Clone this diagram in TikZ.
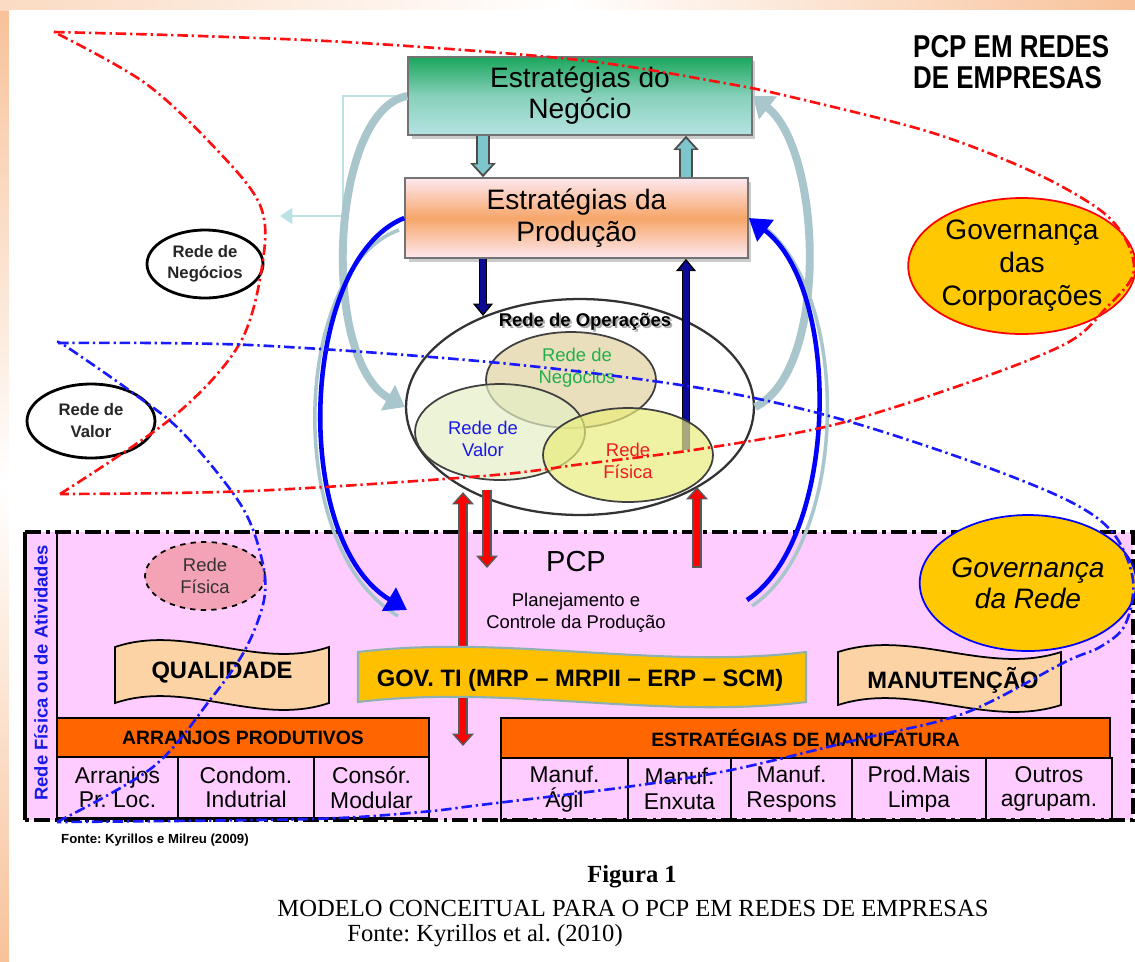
\documentclass[tikz,border=0pt]{standalone}
\usepackage{fontspec}
\setmainfont{Liberation Serif}
\setsansfont{Liberation Sans}
\newfontfamily\condfont[FakeStretch=0.82]{Liberation Sans}
\usetikzlibrary{arrows.meta,shapes.geometric,shadows}
\frenchspacing

\definecolor{peach}{HTML}{F8C29A}
\definecolor{bgreen}{HTML}{1AA65C}
\definecolor{bcyan}{HTML}{B6E3E3}
\definecolor{bpink}{HTML}{FDE8F0}
\definecolor{borange}{HTML}{F7A66A}
\definecolor{arrteal}{HTML}{7DC6CB}
\definecolor{arrgrey}{HTML}{A9C6CD}
\definecolor{elbowcyan}{HTML}{BCE2E6}
\definecolor{navy}{HTML}{0A0A96}
\definecolor{pcppink}{HTML}{FFCCFF}
\definecolor{barorange}{HTML}{FF6600}
\definecolor{banpeach}{HTML}{FCD3A4}
\definecolor{gold}{HTML}{FFC800}
\definecolor{govti}{HTML}{FFC000}
\definecolor{govtiedge}{HTML}{8FB0B0}
\definecolor{rfpink}{HTML}{F4A2B6}
\definecolor{negfill}{HTML}{E3D5A6}
\definecolor{valfill}{HTML}{E5EFC6}
\definecolor{fisfill}{HTML}{E9ED7C}
\definecolor{txtgreen}{HTML}{22B04A}
\definecolor{txtblue}{HTML}{1A1AE6}
\definecolor{txtred}{HTML}{EE1C24}
\definecolor{dashred}{HTML}{FF1010}
\definecolor{dashblue}{HTML}{1A1AFF}

\newcommand{\setsz}[2]{\fontsize{#1}{#2}\selectfont}

\begin{document}
\begin{tikzpicture}[x=0.02cm,y=-0.02cm,
  stratbox/.style={draw=black!55,line width=0.9pt,align=center,
    drop shadow={shadow xshift=2pt,shadow yshift=-2pt,fill=black!40}},
  oval/.style={ellipse,draw,inner sep=0pt,align=center},
  tealout/.style={line width=8pt,draw=black!70,-{Triangle[length=8pt,width=14pt]}},
  tealin/.style={line width=5.2pt,draw=arrteal,shorten >=1.7pt,-{Triangle[length=5.6pt,width=10pt]}},
  navyout/.style={line width=5pt,draw=black,-{Triangle[length=7pt,width=11pt]}},
  navyin/.style={line width=3pt,draw=navy,shorten >=1.3pt,-{Triangle[length=5pt,width=7.6pt]}},
  redout/.style={line width=5.5pt,draw=black!65,-{Triangle[length=7pt,width=12pt]}},
  redin/.style={line width=3.2pt,draw=red,shorten >=1.4pt,-{Triangle[length=5pt,width=8.4pt]}},
  bigcurve/.style={line width=4.5pt,draw=arrgrey,-{Triangle[length=11pt,width=16pt]}},
  bluecurve/.style={line width=2.6pt,draw=blue,-{Triangle[length=12pt,width=15pt]}},
  shadowcurve/.style={line width=2pt,draw=arrgrey},
  dashdotline/.style={line width=1.5pt,dash pattern=on 6pt off 2.2pt on 1.3pt off 2.2pt},
  banner/.style={draw=black,line width=1pt},
  cell/.style={draw=black,line width=0.6pt,align=center,inner sep=0pt,
    font=\sffamily\setsz{13}{14}}]
\useasboundingbox (0,0) rectangle (1135,961);

\fill[peach] (0,0) rectangle (1135,961);
\shade[top color=peach,bottom color=peach,middle color=white] (0,10) rectangle (9,961);
\shade[left color=peach!60,right color=peach,middle color=white] (0,0) rectangle (1135,10);
\fill[white] (9,10) rectangle (1135,961);

\fill[pcppink] (25,532) rectangle (1133,820);
\draw[line width=1.8pt,dash pattern=on 9pt off 3pt on 2pt off 3pt] (25,532) -- (1133,532) -- (1133,820) -- (25,820);
\draw[line width=2.2pt] (25,532) -- (25,820);
\draw[line width=1.5pt] (57,532) -- (57,818);
\node[rotate=90,text=txtblue,font=\sffamily\bfseries\setsz{10.5}{12}] (faixa) at (41,673) {Rede Física ou de Atividades};

\node[anchor=west,align=left,font=\condfont\bfseries\setsz{18}{17.6}] (titulo) at (907,62) {PCP EM REDES\\DE EMPRESAS};

\node[stratbox,top color=bgreen,bottom color=bcyan,middle color=bgreen!30!bcyan,
  minimum width=6.88cm,minimum height=1.56cm,font=\sffamily\setsz{16}{17.6}] (negocio) at (580,96) {Estratégias do\\Negócio};
\node[stratbox,top color=bpink,bottom color=bpink,middle color=borange,
  minimum width=6.86cm,minimum height=1.6cm,font=\sffamily\setsz{16}{18}] (producao) at (576.5,218) {Estratégias da\\Produção};

\coordinate (laneL) at (483,0);
\coordinate (laneR) at (686,0);
\draw[tealout] (laneL |- negocio.south) -- (laneL |- producao.north);
\draw[tealin] (laneL |- negocio.south) -- (laneL |- producao.north);
\draw[tealout] (laneR |- producao.north) -- (laneR |- negocio.south);
\draw[tealin] (laneR |- producao.north) -- (laneR |- negocio.south);

\node[oval,line width=1.6pt,fill=white,text=black!85,minimum width=2.32cm,minimum height=1.36cm,
  font=\sffamily\bfseries\setsz{9.5}{12}] (negesq) at (205,264) {Rede de\\Negócios};
\node[oval,line width=1.6pt,fill=white,text=black!85,minimum width=2.56cm,minimum height=1.48cm,
  font=\sffamily\bfseries\setsz{9.5}{12.5}] (valesq) at (91,421) {Rede de\\Valor};
\node[oval,draw=red,line width=1pt,fill=gold,minimum width=4.48cm,minimum height=2.72cm,
  font=\sffamily\setsz{16}{18.7}] (govcorp) at (1022,266) {Governança\\das\\Corporações};

\node[oval,line width=1.3pt,draw=black!80,minimum width=6.96cm,minimum height=4.32cm] (operacoes) at (580,407) {};
\node[font=\sffamily\bfseries\setsz{10.5}{12},text=black!35] (opersombra) at (587,324) {Rede de Operações};
\node[font=\sffamily\bfseries\setsz{10.5}{12}] (opertxt) at (585,322) {Rede de Operações};

\coordinate (navytip) at (483,316);
\coordinate (navybase) at (686,450);
\draw[navyout] (laneL |- producao.south) -- (navytip);
\draw[navyin] (laneL |- producao.south) -- (navytip);
\draw[navyout] (navybase) -- (laneR |- producao.south);
\draw[navyin] (navybase) -- (laneR |- producao.south);

\node[oval,line width=1pt,draw=black!75,fill=negfill,fill opacity=0.75,minimum width=3.4cm,minimum height=1.92cm] (negint) at (571,380) {};
\node[oval,line width=1pt,draw=black!75,fill=valfill,fill opacity=0.7,minimum width=3.4cm,minimum height=1.92cm] (valint) at (500,432) {};
\node[oval,line width=1pt,draw=black!75,fill=fisfill,fill opacity=0.7,minimum width=3.4cm,minimum height=1.88cm] (fisint) at (628,455) {};
\node[align=center,text=txtgreen,font=\sffamily\setsz{10.5}{12.5}] (negtxt) at (577,368) {Rede de\\Negócios};
\node[align=center,text=txtblue,font=\sffamily\setsz{10.5}{12.5}] (valtxt) at (483,439) {Rede de\\Valor};
\node[align=center,text=txtred,font=\sffamily\setsz{10.5}{12.5}] (fistxt) at (628,461) {Rede\\Física};

\coordinate (r1top) at (463,492);
\coordinate (r1bot) at (463,746);
\coordinate (r2top) at (487,490);
\coordinate (r2bot) at (487,568);
\coordinate (r3bot) at (697,568);
\coordinate (r3top) at (697,487);
\draw[redout,{Triangle[length=7pt,width=12pt]}-{Triangle[length=7pt,width=12pt]}] (r1bot) -- (r1top);
\draw[redin,shorten <=1.4pt,{Triangle[length=5pt,width=8.4pt]}-{Triangle[length=5pt,width=8.4pt]}] (r1bot) -- (r1top);
\draw[redout] (r2top) -- (r2bot);
\draw[redin] (r2top) -- (r2bot);
\draw[redout] (r3bot) -- (r3top);
\draw[redin,shorten <=1pt] (r3bot) -- (r3top);

\coordinate (elbow) at (343,216);
\coordinate (elbowend) at (280,216);
\draw[line width=1.2pt,draw=elbowcyan,-{Triangle[length=7pt,width=9pt]}] (negocio.west) -| (elbow) -- (elbowend);
\draw[bigcurve] (negocio.west) .. controls (330,110) and (320,360) .. (operacoes.west);
\draw[bigcurve] (operacoes.east) .. controls (830,370) and (822,150) .. (negocio.east);

\coordinate (blueLtip) at (407,610);
\coordinate (blueRstart) at (747,600);
\draw[shadowcurve] (399,230) .. controls (292,268) and (282,548) .. (398,616);
\draw[bluecurve] (producao.west) .. controls (300,260) and (290,540) .. (blueLtip);
\draw[shadowcurve] (752,606) .. controls (850,540) and (853,288) .. (758,222);
\draw[bluecurve] (blueRstart) .. controls (838,540) and (843,290) .. (producao.east);

\node[oval,dashed,line width=1pt,fill=rfpink,text=black!80,minimum width=2.4cm,minimum height=1.36cm,
  font=\sffamily\setsz{10.5}{12.5}] (fisesq) at (205,576) {Rede\\Física};
\node[font=\sffamily\setsz{16.5}{18}] (pcp) at (576,562) {PCP};
\node[align=center,font=\sffamily\setsz{10.5}{12.5}] (pcpsub) at (576,613) {Planejamento e\\Controle da Produção};
\node[oval,draw=blue,line width=1pt,fill=gold,minimum width=4.24cm,minimum height=2.72cm,
  font=\sffamily\itshape\setsz{16}{17.6}] (govrede) at (1028,583) {Governança\\da Rede};

\draw[banner,fill=banpeach] (115,647) .. controls (186,623) and (258,671) .. (329,647) -- (329,703)
  .. controls (258,727) and (186,679) .. (115,703) -- cycle;
\node[font=\sffamily\bfseries\setsz{13.5}{15}] (qualidade) at (222,673) {QUALIDADE};
\draw[line width=1.2pt,draw=govtiedge,fill=govti] (358,652) .. controls (507,634) and (657,670) .. (806,652) -- (806,702)
  .. controls (657,720) and (507,684) .. (358,702) -- cycle;
\node[font=\sffamily\bfseries\setsz{13.5}{15}] (govtitxt) at (580,680) {GOV. TI (MRP – MRPII – ERP – SCM)};
\draw[banner,fill=banpeach] (838,652) .. controls (912,628) and (987,676) .. (1061,652) -- (1061,705)
  .. controls (987,729) and (912,681) .. (838,705) -- cycle;
\node[font=\sffamily\bfseries\setsz{13.5}{15}] (manutencao) at (953,680) {MANUTENÇÃO};

\node[draw=black,line width=1pt,fill=barorange,minimum width=7.44cm,minimum height=0.78cm,
  font=\sffamily\bfseries\setsz{11}{13}] (arranjos) at (243,737.5) {ARRANJOS PRODUTIVOS};
\node[draw=black,line width=1pt,fill=barorange,minimum width=12.18cm,minimum height=0.8cm,
  font=\sffamily\bfseries\setsz{11}{13}] (estrmanuf) at (805.5,738) {ESTRATÉGIAS DE MANUFATURA};

\node[cell,minimum width=2.42cm,minimum height=1.22cm] (arr1) at (117.5,787.5) {Arranjos\\Pr. Loc.};
\node[cell,minimum width=2.72cm,minimum height=1.22cm] (arr2) at (246,787.5) {Condom.\\Indutrial};
\node[cell,minimum width=2.3cm,minimum height=1.22cm] (arr3) at (371.5,787.5) {Consór.\\Modular};
\node[cell,minimum width=2.54cm,minimum height=1.24cm] (man1) at (564.5,789) {Manuf.\\Ágil};
\node[cell,minimum width=2.06cm,minimum height=1.24cm] (man2) at (679.5,789) {Manuf.\\Enxuta};
\node[cell,minimum width=2.42cm,minimum height=1.24cm] (man3) at (791.5,789) {Manuf.\\Respons};
\node[cell,minimum width=2.68cm,minimum height=1.24cm] (man4) at (919,789) {Prod.Mais\\Limpa};
\node[cell,minimum width=2.52cm,minimum height=1.24cm] (man5) at (1049,789) {Outros\\agrupam.};
\draw[line width=2.2pt] (arr1.south west) -- (arr3.south east);
\draw[line width=2.2pt] (man1.south west) -- (man5.south east);

\node[anchor=west,font=\sffamily\bfseries\setsz{7.5}{9}] (fonte) at (55,840) {Fonte: Kyrillos e Milreu (2009)};

\draw[dashdotline,dashred] plot[smooth,tension=0.55] coordinates {(54,32) (200,36) (362,43) (579,60) (724,83) (800,99)
  (933,133) (1033,172) (1100,210) (1127,242) (1133,275) (1107,307) (1067,343) (967,383) (833,425) (700,449)
  (583,464) (483,476) (250,491) (60,494)};
\draw[dashdotline,dashred] plot[smooth,tension=0.55] coordinates {(60,494) (173,417) (240,343) (263,260) (260,205)
  (217,150) (145,83) (54,32)};
\draw[dashdotline,dashblue] plot[smooth,tension=0.55] coordinates {(58,343) (250,345) (500,363) (700,388) (833,417)
  (967,460) (1067,500) (1113,533) (1133,580) (1125,625) (1100,647) (1065,662) (965,713) (856,740) (731,770)
  (626,787) (480,805) (421,812) (311,819) (57,822)};
\draw[dashdotline,dashblue] plot[smooth,tension=0.55] coordinates {(57,822) (153,767) (210,700) (245,650) (264,600)
  (262,560) (241,505) (183,433) (133,393) (67,347) (58,343)};

\node[font=\rmfamily\bfseries\setsz{14}{16}] (figura) at (632,877) {Figura 1};
\node[font=\rmfamily\setsz{14}{16}] (modelo) at (633,908) {MODELO CONCEITUAL PARA O PCP EM REDES DE EMPRESAS};
\node[font=\rmfamily\setsz{14}{16}] (fontefig) at (485,936) {Fonte: Kyrillos et al. (2010)};
\end{tikzpicture}
\end{document}
